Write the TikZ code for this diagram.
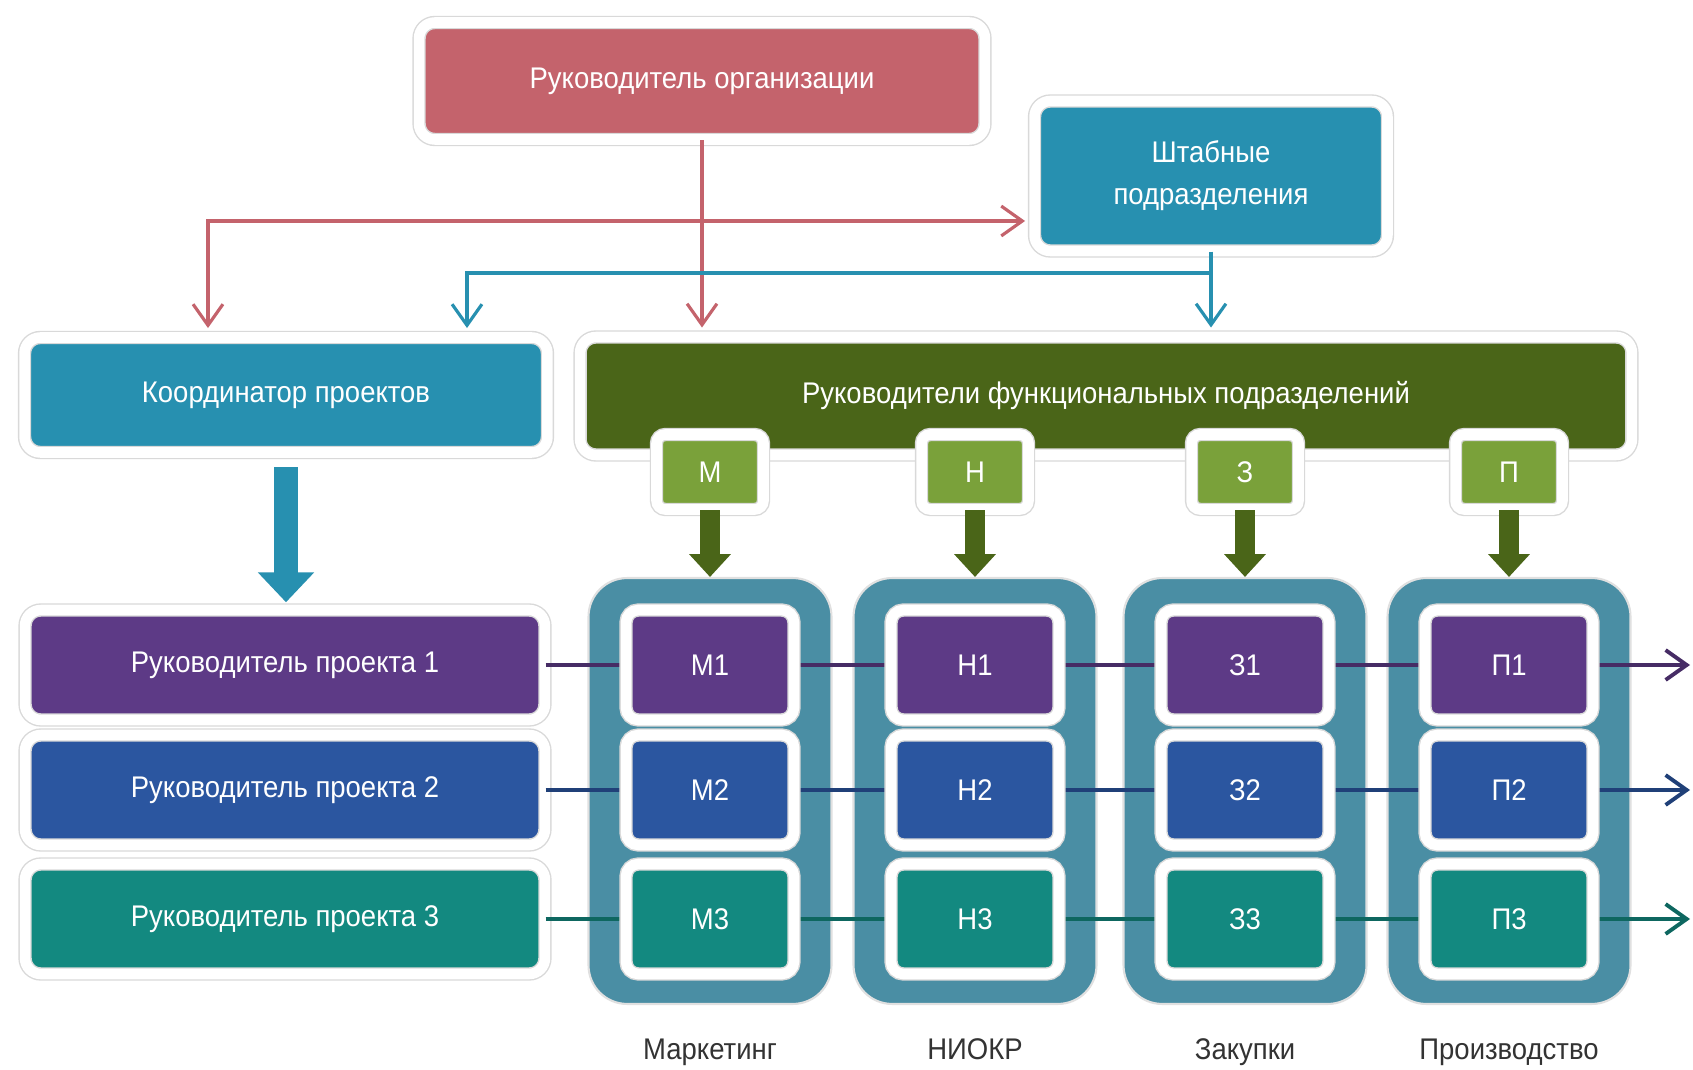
\documentclass[tikz,border=0pt]{standalone}
\usepackage{fontspec}
\setmainfont{Liberation Sans}[FakeStretch=0.92]
\usepackage{tikz}
\usetikzlibrary{arrows.meta,positioning,calc}

\definecolor{orgred}{RGB}{196,99,108}
\definecolor{staffblue}{RGB}{39,144,176}
\definecolor{funcgreen}{RGB}{74,101,24}
\definecolor{lgreen}{RGB}{122,161,58}
\definecolor{prjA}{RGB}{93,58,134}
\definecolor{prjB}{RGB}{43,86,160}
\definecolor{prjC}{RGB}{19,137,128}
\definecolor{colbg}{RGB}{74,142,164}

\begin{document}
\begin{tikzpicture}[x=0.02cm,y=-0.02cm]
      \tikzstyle{box} = [rectangle, rounded corners=9pt, draw=black!15, line width=0.8pt, double=white, double distance=6pt, text=white, font=\fontsize{17}{24}\selectfont, align=center]
      \tikzstyle{cell} = [box, minimum width=3.36cm, minimum height=2.2cm, rounded corners=7pt]
      \tikzstyle{prj} = [box, minimum width=10.4cm, minimum height=2.2cm]
      \tikzstyle{tag} = [box, fill=lgreen, minimum width=2.14cm, minimum height=1.5cm, rounded corners=5pt]
      \tikzstyle{colbox} = [rectangle, rounded corners=22pt, fill=colbg, draw=black!12, line width=1.2pt, minimum width=4.86cm, minimum height=8.52cm]
      \tikzstyle{lbl} = [text=black!80, font=\fontsize{17}{21}\selectfont]
      \tikzstyle{redline} = [draw=orgred, line width=1.8pt, -{Straight Barb[length=12pt,width=17pt]}, shorten >=5pt]
      \tikzstyle{blueline} = [draw=staffblue, line width=1.8pt, -{Straight Barb[length=12pt,width=17pt]}, shorten >=5pt]
      \tikzstyle{rowline} = [line width=2.2pt, -{Straight Barb[length=12pt,width=17pt]}]
      \tikzstyle{bigarrow} = [draw=staffblue, line width=13.6pt, -{Triangle[length=17pt,width=31pt]}, shorten >=4pt, shorten <=8pt]
      \tikzstyle{tagarrow} = [draw=funcgreen, line width=11pt, -{Triangle[length=13pt,width=23pt]}]
      \fill[white] (0,0) rectangle (1693,1070);
      \useasboundingbox (0,0) rectangle (1693,1070);
      % upper boxes
      \node[box, fill=orgred, minimum width=11.32cm, minimum height=2.34cm] (org) at (702,81) {Руководитель организации};
      \node[box, fill=staffblue, minimum width=7.06cm, minimum height=3cm] (staff) at (1211,176) {Штабные\\подразделения};
      \node[box, fill=staffblue, minimum width=10.46cm, minimum height=2.3cm] (coord) at (286,395) {Координатор проектов};
      \node[box, fill=funcgreen, minimum width=21.04cm, minimum height=2.36cm] (func) at (1106,396) {Руководители функциональных подразделений};
      % columns
      \foreach \n/\x/\name in {m/710/Маркетинг, n/975/НИОКР, z/1245/Закупки, p/1509/Производство} {
        \node[colbox] (col\n) at (\x,791) {};
        \node[lbl, below=5.5mm of col\n] (lbl\n) {\name};
      }
      % projects
      \node[prj, fill=prjA] (prj1) at (285,665) {Руководитель проекта 1};
      \node[prj, fill=prjB] (prj2) at (285,790) {Руководитель проекта 2};
      \node[prj, fill=prjC] (prj3) at (285,919) {Руководитель проекта 3};
      \coordinate (e1) at (1690,665);
      \coordinate (e2) at (1690,790);
      \coordinate (e3) at (1690,919);
      \draw[rowline, draw=prjA!75!black] (prj1) -- (e1);
      \draw[rowline, draw=prjB!75!black] (prj2) -- (e2);
      \draw[rowline, draw=prjC!75!black] (prj3) -- (e3);
      % cells and tags
      \foreach \n/\x/\t in {m/710/М, n/975/Н, z/1245/З, p/1509/П} {
        \foreach \r/\y/\c in {1/665/prjA, 2/790/prjB, 3/919/prjC}
          \node[cell, fill=\c] (\n\r) at (\x,\y) {\t\r};
        \node[tag] (tag\n) at (\x,472) {\t};
        \draw[tagarrow] (tag\n) -- (tag\n |- col\n.north);
      }
      % connectors
      \coordinate (rj) at (702,221);
      \coordinate (bj) at (1211,273);
      \draw[redline] (org) -- (org |- func.north);
      \draw[redline] (rj) -- (staff.west |- rj);
      \draw[redline] (rj) -| ($(coord.north)+(-78,0)$);
      \draw[blueline] (staff) -- (staff |- func.north);
      \draw[blueline] (bj) -| ($(coord.north)+(181,0)$);
      \draw[bigarrow] (coord) -- (coord |- prj1.north);
\end{tikzpicture}
\end{document}
